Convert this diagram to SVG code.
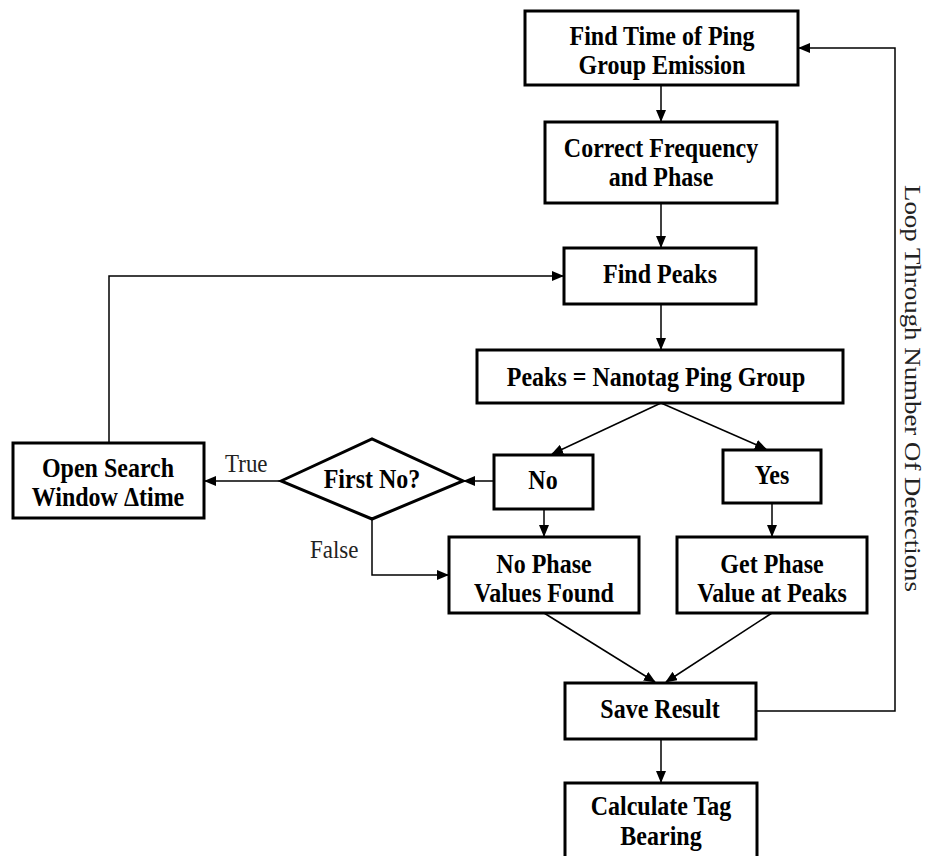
<svg xmlns="http://www.w3.org/2000/svg" width="927" height="856" viewBox="0 0 927 856">
<style>
.box{fill:#fff;stroke:#000;stroke-width:3}
.t{font-family:"Liberation Serif","Times New Roman",serif;font-weight:bold;font-size:24px;fill:#000;text-anchor:middle}
.lbl{font-family:"Liberation Serif","Times New Roman",serif;font-size:23px;fill:#222}
.c{fill:none;stroke:#000;stroke-width:1.5}
</style>
<defs>
<marker id="ah" markerUnits="userSpaceOnUse" markerWidth="12" markerHeight="10" refX="11" refY="5" orient="auto">
<path d="M0,0 L12,5 L0,10 Z" fill="#000"/>
</marker>
</defs>
<rect width="927" height="856" fill="#fff"/>
<g id="connectors">
<path class="c" d="M661,85 V121" marker-end="url(#ah)"/>
<path class="c" d="M661,203 V247" marker-end="url(#ah)"/>
<path class="c" d="M661,304 V349" marker-end="url(#ah)"/>
<path class="c" d="M661,403 L552,454" marker-end="url(#ah)"/>
<path class="c" d="M661,403 L766,449" marker-end="url(#ah)"/>
<path class="c" d="M494,481 H464" marker-end="url(#ah)"/>
<path class="c" d="M544,509 V536" marker-end="url(#ah)"/>
<path class="c" d="M772,503 V536" marker-end="url(#ah)"/>
<path class="c" d="M281,481 H205" marker-end="url(#ah)"/>
<path class="c" d="M372,519 V575 H448" marker-end="url(#ah)"/>
<path class="c" d="M109,443 V276 H563" marker-end="url(#ah)"/>
<path class="c" d="M544,613 L655,682" marker-end="url(#ah)"/>
<path class="c" d="M772,613 L666,682" marker-end="url(#ah)"/>
<path class="c" d="M661,739 V782" marker-end="url(#ah)"/>
<path class="c" d="M756,711 H895 V48 H799" marker-end="url(#ah)"/>
<text class="lbl" transform="translate(225,472) scale(1,1.1)">True</text>
<text class="lbl" transform="translate(310,558) scale(1,1.1)">False</text>
<text class="lbl" transform="translate(905,185) rotate(90)" font-size="26" textLength="407" lengthAdjust="spacingAndGlyphs">Loop Through Number Of Detections</text>
</g>
<g id="n-find-time">
<rect class="box" x="525" y="11" width="273" height="74"/>
<text class="t" transform="translate(662,45) scale(1,1.1)">Find Time of Ping</text>
<text class="t" transform="translate(662,74) scale(1,1.1)">Group Emission</text>
</g>
<g id="n-correct">
<rect class="box" x="545" y="122" width="232" height="81"/>
<text class="t" transform="translate(661,157) scale(1,1.1)">Correct Frequency</text>
<text class="t" transform="translate(661,186) scale(1,1.1)">and Phase</text>
</g>
<g id="n-find-peaks">
<rect class="box" x="564" y="248" width="192" height="56"/>
<text class="t" transform="translate(660,283) scale(1,1.1)">Find Peaks</text>
</g>
<g id="n-peaks-eq">
<rect class="box" x="477" y="350" width="366" height="53"/>
<text class="t" transform="translate(656,386) scale(1,1.1)">Peaks = Nanotag Ping Group</text>
</g>
<g id="n-no">
<rect class="box" x="494" y="455" width="99" height="54"/>
<text class="t" transform="translate(543,489) scale(1,1.1)">No</text>
</g>
<g id="n-yes">
<rect class="box" x="723" y="450" width="98" height="53"/>
<text class="t" transform="translate(772,484) scale(1,1.1)">Yes</text>
</g>
<g id="n-first-no">
<polygon class="box" points="281,481 372,439 463,481 372,519"/>
<text class="t" transform="translate(372,488) scale(1,1.1)">First No?</text>
</g>
<g id="n-open-search">
<rect class="box" x="13" y="443" width="191" height="75"/>
<text class="t" transform="translate(108,477) scale(1,1.1)">Open Search</text>
<text class="t" transform="translate(108,506) scale(1,1.1)">Window Δtime</text>
</g>
<g id="n-no-phase">
<rect class="box" x="449" y="537" width="190" height="76"/>
<text class="t" transform="translate(544,573) scale(1,1.1)">No Phase</text>
<text class="t" transform="translate(544,602) scale(1,1.1)">Values Found</text>
</g>
<g id="n-get-phase">
<rect class="box" x="677" y="537" width="190" height="76"/>
<text class="t" transform="translate(772,573) scale(1,1.1)">Get Phase</text>
<text class="t" transform="translate(772,602) scale(1,1.1)">Value at Peaks</text>
</g>
<g id="n-save">
<rect class="box" x="565" y="683" width="191" height="56"/>
<text class="t" transform="translate(660,718) scale(1,1.1)">Save Result</text>
</g>
<g id="n-calc">
<rect class="box" x="565" y="783" width="192" height="90"/>
<text class="t" transform="translate(661,815) scale(1,1.1)">Calculate Tag</text>
<text class="t" transform="translate(661,845) scale(1,1.1)">Bearing</text>
</g>
</svg>
